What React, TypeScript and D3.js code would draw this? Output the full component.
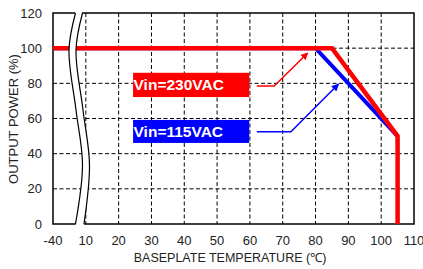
import { useRef, useEffect } from "react";
import * as d3 from "d3";

// axis ticks (the -40 tick sits before the axis break)
const xTickLabels = [-40, 10, 20, 30, 40, 50, 60, 70, 80, 90, 100, 110];
const yTicks = [0, 20, 40, 60, 80, 100, 120];

// derating curves
const red230Temp = [-40, 85, 105, 105];
const red230Power = [100, 100, 50, 0];
const blue115Temp = [-40, 80, 105];
const blue115Power = [100, 100, 50];

// annotation boxes / arrows, in chart units
const labels = ["Vin=230VAC", "Vin=115VAC"];
const labelColors = ["#ff0000", "#0000ff"];
const labelBoxTemp = [24.4, 59.8];
const labelBoxTop = [86, 59.2];
const labelBoxBottom = [72.2, 46.1];
const arrowTemp = [
  [62.1, 67.4, 77.6],
  [62.1, 72.5, 87.0],
];
const arrowPower = [
  [78.5, 78.5, 97.3],
  [52.5, 52.5, 79.6],
];

// the axis is broken between -40 and 10
const pos = (t: number) => (t === -40 ? 0 : t);

const App = () => {
  const ref = useRef<SVGSVGElement>(null);

  useEffect(() => {
    const w = 423;
    const h = 269;
    const svg = d3.select(ref.current);
    svg.selectAll("*").remove();

    const x = d3.scaleLinear().domain([0, 110]).range([53, 414]);
    const y = d3.scaleLinear().domain([0, 120]).range([224, 13]);
    const font = "Liberation Sans, Arial, sans-serif";

    svg.attr("width", w).attr("height", h);

    // grid
    const grid = svg.append("g").attr("stroke", "#000").attr("stroke-width", 1).attr("stroke-dasharray", "4,2.5");
    grid
      .selectAll(".vg")
      .data(xTickLabels.slice(1, -1))
      .join("line")
      .attr("x1", (d) => x(pos(d)))
      .attr("x2", (d) => x(pos(d)))
      .attr("y1", y(120))
      .attr("y2", y(0));
    grid
      .selectAll(".hg")
      .data(yTicks.slice(1, -1))
      .join("line")
      .attr("x1", x(0))
      .attr("x2", x(110))
      .attr("y1", (d) => y(d))
      .attr("y2", (d) => y(d));

    // frame
    svg
      .append("rect")
      .attr("x", x(0))
      .attr("y", y(120))
      .attr("width", x(110) - x(0))
      .attr("height", y(0) - y(120))
      .attr("fill", "none")
      .attr("stroke", "#000")
      .attr("stroke-width", 1.5);

    // curves
    const drawSeries = (temps: number[], power: number[], color: string, width: number) => {
      svg
        .append("path")
        .datum(temps.map((t, i) => [x(pos(t)), y(power[i])] as [number, number]))
        .attr("d", d3.line())
        .attr("fill", "none")
        .attr("stroke", color)
        .attr("stroke-width", width);
    };
    drawSeries(blue115Temp, blue115Power, "#0000ff", 4);
    drawSeries(red230Temp, red230Power, "#ff0000", 4.5);

    // axis break band
    const leftCurve: [number, number][] = [
      [75.5, 11],
      [69, 50],
      [76, 110],
      [82.5, 165],
      [75.5, 226],
    ];
    const rightCurve: [number, number][] = leftCurve.map(([a, b], i) => [a + 7 + (i === 4 ? 1.5 : 0), b]);
    const curve = d3.line().curve(d3.curveCatmullRom);
    svg
      .append("path")
      .attr("d", curve(leftCurve)! + "L" + curve(rightCurve.slice().reverse())!.slice(1) + "Z")
      .attr("fill", "#fff");
    const clipped = (pts: [number, number][]) =>
      pts.map(([a, b]) => [a, Math.max(13, Math.min(224, b))] as [number, number]);
    [leftCurve, rightCurve].forEach((c) => {
      svg
        .append("path")
        .attr("d", curve(clipped(c)))
        .attr("fill", "none")
        .attr("stroke", "#000")
        .attr("stroke-width", 1.2);
    });

    // tick labels
    svg
      .append("g")
      .selectAll("text")
      .data(xTickLabels)
      .join("text")
      .attr("x", (d) => x(pos(d)))
      .attr("y", 245)
      .attr("text-anchor", "middle")
      .attr("font-family", font)
      .attr("font-size", 13)
      .attr("fill", "#222")
      .text((d) => d);
    svg
      .append("g")
      .selectAll("text")
      .data(yTicks)
      .join("text")
      .attr("x", 42)
      .attr("y", (d) => y(d) + 4.5)
      .attr("text-anchor", "end")
      .attr("font-family", font)
      .attr("font-size", 13)
      .attr("fill", "#222")
      .text((d) => d);

    // axis titles
    svg
      .append("text")
      .attr("x", 230)
      .attr("y", 262)
      .attr("text-anchor", "middle")
      .attr("font-family", font)
      .attr("font-size", 12.5)
      .attr("fill", "#222")
      .text("BASEPLATE  TEMPERATURE (℃)");
    svg
      .append("text")
      .attr("transform", `translate(18,119) rotate(-90)`)
      .attr("text-anchor", "middle")
      .attr("font-family", font)
      .attr("font-size", 13)
      .attr("fill", "#222")
      .text("OUTPUT POWER (%)");

    // arrow markers
    const defs = svg.append("defs");
    labelColors.forEach((c, i) => {
      defs
        .append("marker")
        .attr("id", `arr${i}`)
        .attr("viewBox", "0 0 10 10")
        .attr("refX", 9)
        .attr("refY", 5)
        .attr("markerWidth", 5)
        .attr("markerHeight", 5)
        .attr("orient", "auto")
        .attr("markerUnits", "strokeWidth")
        .append("path")
        .attr("d", "M0,0 L10,5 L0,10 Z")
        .attr("fill", c);
    });

    // annotations
    labels.forEach((label, i) => {
      const x0 = x(labelBoxTemp[0]);
      const x1 = x(labelBoxTemp[1]);
      const y0 = y(labelBoxTop[i]);
      const y1 = y(labelBoxBottom[i]);
      svg
        .append("rect")
        .attr("x", x0)
        .attr("y", y0)
        .attr("width", x1 - x0)
        .attr("height", y1 - y0)
        .attr("fill", labelColors[i]);
      svg
        .append("text")
        .attr("x", x0 + 0.5)
        .attr("y", (y0 + y1) / 2 + 5.5)
        .attr("font-family", font)
        .attr("font-weight", "bold")
        .attr("font-size", 15.5)
        .attr("fill", "#fff")
        .text(label);
      svg
        .append("path")
        .datum(arrowTemp[i].map((t, k) => [x(t), y(arrowPower[i][k])] as [number, number]))
        .attr("d", d3.line())
        .attr("fill", "none")
        .attr("stroke", labelColors[i])
        .attr("stroke-width", 1.5)
        .attr("marker-end", `url(#arr${i})`);
    });
  }, []);

  return <svg ref={ref} style={{ position: "absolute", left: 0, top: 0, background: "#fff" }}></svg>;
};

export default App;
